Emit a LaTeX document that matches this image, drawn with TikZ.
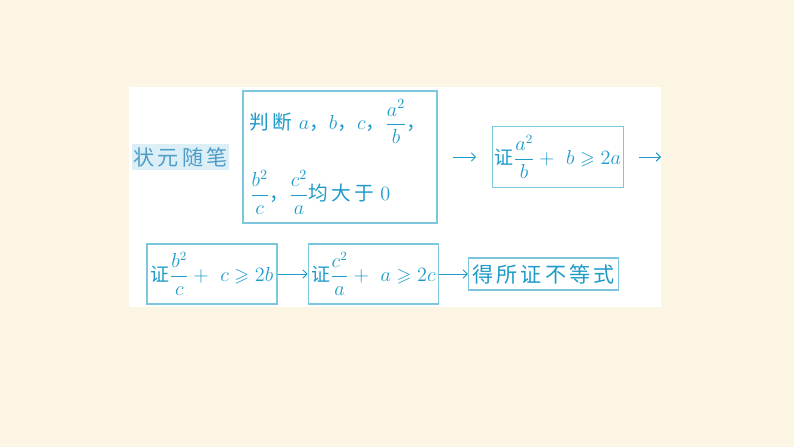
\documentclass[tikz,border=0pt]{standalone}
\usepackage{amsmath}
\usepackage{amssymb}
\usepackage{fontspec}
\newfontfamily\cjk{Noto Sans CJK SC}[LetterSpace=15]
\usetikzlibrary{arrows.meta, positioning}
\definecolor{paper}{HTML}{FCF5E4}
\definecolor{ink}{HTML}{1E9BC8}
\definecolor{frame}{HTML}{7CC7DE}
\definecolor{tagfill}{HTML}{DCEEF6}
\definecolor{tagink}{HTML}{4E9DC8}

\begin{document}
\begin{tikzpicture}[x=0.025cm, y=-0.025cm, >={Straight Barb[length=3pt,width=6pt]}, link/.style={draw=ink, line width=0.7pt}, border/.style={draw=frame, line width=0.9pt}]
    % Define styles for the boxes and the tag
    \tikzstyle{block} = [rectangle, fill=white, text=ink, border, inner sep=0pt, font=\cjk\fontsize{13.5}{50}\selectfont]
    \tikzstyle{tag} = [rectangle, fill=tagfill, text=tagink, inner sep=0pt, minimum width=2.425cm, minimum height=0.625cm, font=\cjk\fontsize{15}{18}\selectfont]

    % Background and white panel
    \fill[paper] (0,0) rectangle (794,447);
    \fill[white] (129,87) rectangle (661,307);

    % Nodes placement
    \node [tag] (tag) at (180.5,157) {状元随笔};
    \node [block, minimum width=4.85cm, minimum height=3.3cm, text width=4.5cm, align=left, font=\cjk\fontsize{14}{50}\selectfont] (judge) at (340,157) {判断 $a$，$b$，$c$，$\dfrac{a^2}{b}$，\\ $\dfrac{b^2}{c}$，$\dfrac{c^2}{a}$均大于 $0$};
    \node [block, minimum width=3.275cm, minimum height=1.525cm, right=1.35cm of judge] (stepA) {证$\dfrac{a^2}{b}+\ b\geqslant 2a$};
    \coordinate (exit) at (661,157);
    \node [block, minimum width=3.25cm, minimum height=1.5cm] (stepB) at (212,274) {证$\dfrac{b^2}{c}+\ c\geqslant 2b$};
    \node [block, minimum width=3.25cm, minimum height=1.5cm, right=0.75cm of stepB] (stepC) {证$\dfrac{c^2}{a}+\ a\geqslant 2c$};
    \node [block, minimum width=3.75cm, minimum height=0.8cm, right=0.725cm of stepC, font=\cjk\fontsize{15}{18}\selectfont] (result) {得所证不等式};

    % Draw edges
    \draw[link,->, shorten <=11pt, shorten >=11pt] (judge) -- (stepA);
    \draw[link,->, shorten <=11pt] (stepA) -- (exit);
    \draw[link,->] (stepB) -- (stepC);
    \draw[link,->] (stepC) -- (result);
\end{tikzpicture}
\end{document}
